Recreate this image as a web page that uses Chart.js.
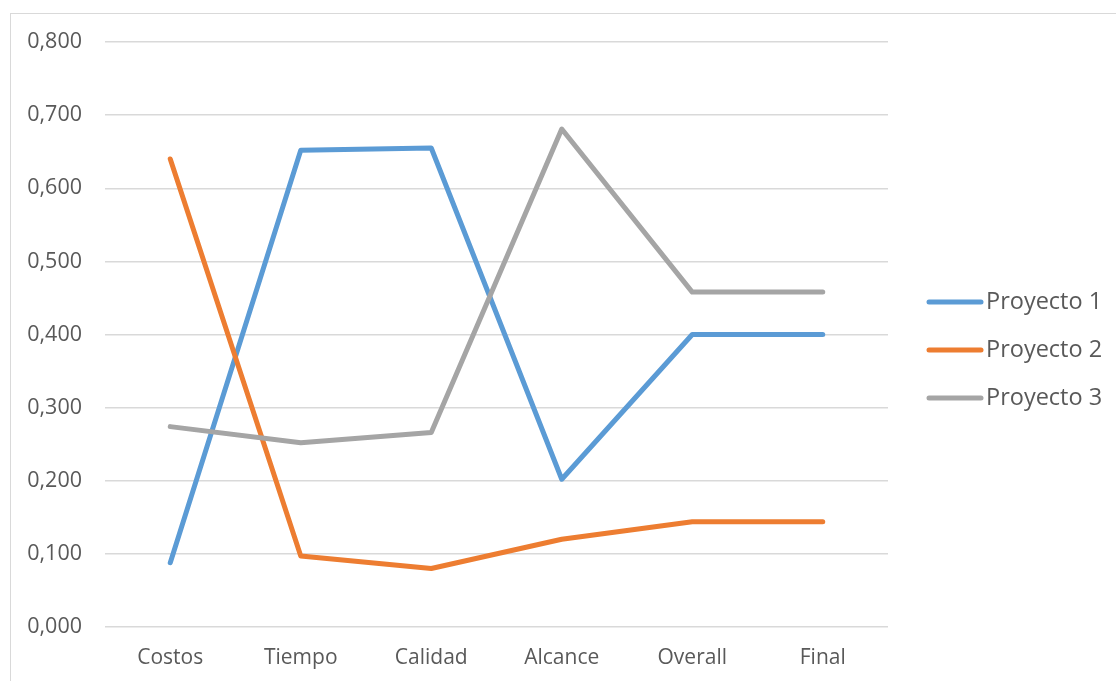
<!DOCTYPE html>
<html>
<head>
<meta charset="utf-8">
<script src="https://cdn.jsdelivr.net/npm/chart.js@4"></script>
<style>
    html, body { margin: 0; padding: 0; background: #fff; overflow: hidden; }
    #frame { position: absolute; left: 10px; top: 13px; width: 1200px; height: 800px; border: 1.5px solid #d9d9d9; box-sizing: border-box; }
    #wrap { position: absolute; left: 0; top: 0; width: 1116px; height: 681px; }
</style>
</head>
<body>
<div id="frame"></div>
<div id="wrap"><canvas id="chart" width="1116" height="681"></canvas></div>
<script>
const categories = ["Costos", "Tiempo", "Calidad", "Alcance", "Overall", "Final"];
const seriesNames = ["Proyecto 1", "Proyecto 2", "Proyecto 3"];
const proyecto1 = [0.088, 0.652, 0.655, 0.202, 0.400, 0.400];
const proyecto2 = [0.640, 0.097, 0.080, 0.120, 0.144, 0.144];
const proyecto3 = [0.274, 0.252, 0.266, 0.681, 0.458, 0.458];
const seriesColors = ["#5b9bd5", "#ed7d31", "#a5a5a5"];
const yTicks = [0, 0.1, 0.2, 0.3, 0.4, 0.5, 0.6, 0.7, 0.8];

const fontFamily = "'Open Sans', sans-serif";
const textColor = "#595959";

// legend drawn as short thick lines on the right, one row per series
const sideLegend = {
    id: "sideLegend",
    afterDraw(chart) {
        const ctx = chart.ctx;
        const rows = [302, 350, 398];
        ctx.save();
        ctx.font = `23.5px ${fontFamily}`;
        ctx.textBaseline = "middle";
        ctx.lineCap = "round";
        ctx.lineWidth = 5;
        chart.data.datasets.forEach((ds, i) => {
            const y = rows[i];
            ctx.strokeStyle = ds.borderColor;
            ctx.beginPath();
            ctx.moveTo(929, y);
            ctx.lineTo(981, y);
            ctx.stroke();
            ctx.fillStyle = textColor;
            ctx.fillText(ds.label, 986, y);
        });
        ctx.restore();
    }
};

const lineSeries = [proyecto1, proyecto2, proyecto3];

new Chart(document.getElementById("chart"), {
    type: "line",
    data: {
        labels: categories,
        datasets: lineSeries.map((values, i) => ({
            label: seriesNames[i],
            data: values,
            borderColor: seriesColors[i],
            backgroundColor: seriesColors[i],
            borderWidth: 5,
            borderCapStyle: "round",
            borderJoinStyle: "round",
            pointRadius: 0,
            tension: 0,
            order: 3 - i
        }))
    },
    options: {
        responsive: false,
        animation: false,
        layout: { padding: { left: 0, right: 228, top: 42, bottom: 0 } },
        plugins: { legend: { display: false }, tooltip: { enabled: false } },
        scales: {
            x: {
                offset: true,
                grid: { display: false, drawTicks: false },
                border: { display: false },
                ticks: { color: textColor, font: { family: fontFamily, size: 21 }, padding: 18, maxRotation: 0 },
                afterFit(scale) { scale.height = 54; }
            },
            y: {
                min: 0,
                max: 0.8,
                afterBuildTicks(scale) { scale.ticks = yTicks.map((v) => ({ value: v })); },
                grid: { color: "#d9d9d9", lineWidth: 1.5, drawTicks: false },
                border: { display: false },
                ticks: {
                    color: textColor,
                    font: { family: fontFamily, size: 21.5 },
                    padding: 23,
                    callback: (v) => Number(v).toFixed(3).replace(".", ",")
                },
                afterFit(scale) { scale.width = 105; }
            }
        }
    },
    plugins: [sideLegend]
});
</script>
</body>
</html>
